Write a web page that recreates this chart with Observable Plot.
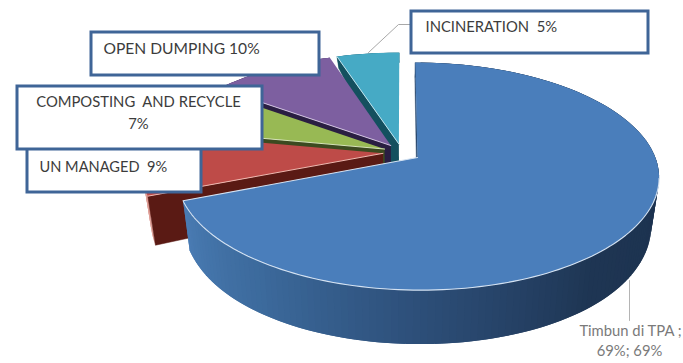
<!DOCTYPE html>
<html>
<head>
<meta charset="utf-8">
<script src="https://cdn.jsdelivr.net/npm/d3@7"></script>
<script src="https://cdn.jsdelivr.net/npm/@observablehq/plot@0.6"></script>
<style>
  html, body { margin: 0; padding: 0; background: #fff; }
  svg { display: block; }
</style>
</head>
<body>
<div id="chart"></div>
<script>
// Waste handling shares, clockwise from twelve o'clock
const categories = ["Timbun di TPA", "UN MANAGED", "COMPOSTING AND RECYCLE", "OPEN DUMPING", "INCINERATION"];
const shares = [69, 9, 7, 10, 5];

const topColors = ["#4a7ebb", "#be4b48", "#98b954", "#7d5fa0", "#46aac5"];
const cutColors = ["#2a4a70", "#5a1a14", "#3c4a20", "#2a1e42", "#14505f"];
const rimColors = ["#d4e2f2", "#f0b8b0", "#d6e4b8", "#d2c4e2", "#bfe4ee"];
const wallColors = ["#2a4a70", "#e0a098", "#5f7a30", "#4a3566", "#236f85"];

// Perspective of the tilted, exploded disc
const view = {cx: 401.3, cy: 152, rx: 236, ry: 109, tilt: 0.165, explode: 0.08, shrink: 0.97};
const rad = (deg) => (deg * Math.PI) / 180;

// The wall looks taller toward the viewer and flattens out at the back
const drop = (v) => 42.7 - 20.4 * v - 9.2 * v * v;

const topPoint = (u, v) => {
  const w = 1 + view.tilt * v;
  return {x: view.cx + (view.rx * u) / w, y: view.cy - (view.ry * v) / w};
};
const lowPoint = (u, v) => {
  const w = 1 + view.tilt * v;
  return {
    x: view.cx + (view.shrink * view.rx * u) / w,
    y: view.cy - (view.ry * v) / w + drop(v)
  };
};

// Angular extent of every slice
const total = d3.sum(shares);
let running = 0;
const slices = shares.map((share, i) => {
  const a0 = (running / total) * 360;
  running += share;
  const a1 = (running / total) * 360;
  const mid = rad((a0 + a1) / 2);
  return {i, a0, a1, ou: view.explode * Math.sin(mid), ov: view.explode * Math.cos(mid)};
});

const rimUV = (s, deg) => [s.ou + Math.sin(rad(deg)), s.ov + Math.cos(rad(deg))];
const arcAngles = (s) => d3.range(s.a0, s.a1, 1.5).concat([s.a1]);

// Shading of the front wall of the big slice runs from lit left to dark right
const frontShade = d3.scaleLinear()
  .domain([248, 215, 180, 140, 90, 0])
  .range(["#4a7cb4", "#3c6a9c", "#2d4f79", "#1e3553", "#1c324e", "#1c324e"])
  .interpolate(d3.interpolateRgb);

function sliceMarks(s) {
  const marks = [];
  const angles = arcAngles(s);

  // outer wall as short overlapping quads so it can carry shading
  const wall = [];
  angles.slice(0, -1).forEach((deg, k) => {
    const [u0, v0] = rimUV(s, deg);
    const [u1, v1] = rimUV(s, angles[Math.min(k + 2, angles.length - 1)]);
    const color = s.i === 0 ? frontShade(deg) : wallColors[s.i];
    [topPoint(u0, v0), topPoint(u1, v1), lowPoint(u1, v1), lowPoint(u0, v0)]
      .forEach((p) => wall.push({...p, seg: k, color}));
  });
  marks.push(Plot.line(wall, {
    x: "x", y: "y", z: "seg",
    fill: {value: "color", scale: null},
    stroke: "none"
  }));

  // cut face along the slice's leading edge
  const [eu, ev] = rimUV(s, s.a0);
  const cut = [topPoint(s.ou, s.ov), topPoint(eu, ev), lowPoint(eu, ev), lowPoint(s.ou, s.ov)];
  marks.push(Plot.line(cut, {x: "x", y: "y", fill: cutColors[s.i], stroke: cutColors[s.i], strokeWidth: 0.5}));

  // top face
  const arc = angles.map((deg) => {
    const [u, v] = rimUV(s, deg);
    return topPoint(u, v);
  });
  const apex = topPoint(s.ou, s.ov);
  marks.push(Plot.line([apex, ...arc], {x: "x", y: "y", fill: topColors[s.i], stroke: "none"}));

  // thin highlights: the big slice is lit along its rim and closing edge, the others along the leading edge
  if (s.i === 0) {
    const frontArc = arc.filter((p, k) => angles[k] >= 100);
    marks.push(Plot.line([...frontArc, apex], {x: "x", y: "y", stroke: rimColors[0], strokeWidth: 1.1}));
  } else {
    marks.push(Plot.line([apex, arc[0]], {x: "x", y: "y", stroke: rimColors[s.i], strokeWidth: 1}));
  }
  return marks;
}

// Callout boxes and their wording
const boxes = [
  {x1: 27, x2: 201, y1: 140, y2: 192},
  {x1: 17, x2: 262, y1: 86, y2: 149},
  {x1: 91, x2: 319, y1: 32, y2: 75},
  {x1: 411, x2: 648, y1: 11, y2: 53}
];
const leftLabels = [
  {text: `UN MANAGED  ${shares[1]}%`, x: 39, y: 167, size: 14.6},
  {text: `OPEN DUMPING ${shares[3]}%`, x: 103, y: 48, size: 15.6},
  {text: `INCINERATION  ${shares[4]}%`, x: 425, y: 27, size: 14.8}
];
const centerLabels = [
  {text: "COMPOSTING  AND RECYCLE", x: 138, y: 102, size: 14.8},
  {text: `${shares[2]}%`, x: 138, y: 124, size: 14.8}
];
const leaderIncineration = [{x: 410, y: 24}, {x: 398, y: 24}, {x: 368, y: 52}];
const leaderMain = [{x: 629, y: 280}, {x: 629, y: 320}];
const mainLabels = [
  {text: `${categories[0]} ;`, x: 630, y: 331},
  {text: `${shares[0]}%; ${shares[0]}%`, x: 629, y: 351}
];

const back = [...slices].reverse(); // far slices first, the big front slice last

const plot = Plot.plot({
  width: 683,
  height: 363,
  margin: 0,
  x: {domain: [0, 683], range: [0, 683], axis: null},
  y: {domain: [0, 363], range: [0, 363], axis: null},
  style: {background: "#fff"},
  marks: [
    Plot.line(leaderIncineration, {x: "x", y: "y", stroke: "#a8a8a8", strokeWidth: 1}),
    Plot.line(leaderMain, {x: "x", y: "y", stroke: "#b4b4b4", strokeWidth: 1}),
    ...back.flatMap(sliceMarks),
    Plot.rect(boxes, {
      x1: "x1", x2: "x2", y1: "y1", y2: "y2",
      fill: "#fff", stroke: "#3f6597", strokeWidth: 3
    }),
    Plot.text(leftLabels, {
      x: "x", y: "y", text: "text", fontSize: "size",
      textAnchor: "start", lineAnchor: "middle",
      fontFamily: "Lato", fill: "#3c3c3c"
    }),
    Plot.text(centerLabels, {
      x: "x", y: "y", text: "text", fontSize: "size",
      textAnchor: "middle", lineAnchor: "middle",
      fontFamily: "Lato", fill: "#3c3c3c"
    }),
    Plot.text(mainLabels, {
      x: "x", y: "y", text: "text",
      textAnchor: "middle", lineAnchor: "middle",
      fontFamily: "Lato", fontSize: 14.8, fill: "#7a7a7a"
    })
  ]
});
document.getElementById("chart").append(plot);
</script>
</body>
</html>
